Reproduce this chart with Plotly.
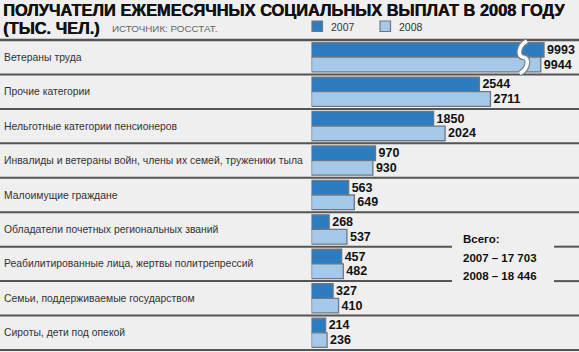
import plotly.graph_objects as go

# ---- data ----
categories = [
    "Ветераны труда",
    "Прочие категории",
    "Нельготные категории пенсионеров",
    "Инвалиды и ветераны войн, члены их семей, труженики тыла",
    "Малоимущие граждане",
    "Обладатели почетных региональных званий",
    "Реабилитированные лица, жертвы политрепрессий",
    "Семьи, поддерживаемые государством",
    "Сироты, дети под опекой",
]
values_2007 = [9993, 2544, 1850, 970, 563, 268, 457, 327, 214]
values_2008 = [9944, 2711, 2024, 930, 649, 537, 482, 410, 236]
series_names = ["2007", "2008"]
total_2007 = "17 703"
total_2008 = "18 446"

title_line1 = "ПОЛУЧАТЕЛИ ЕЖЕМЕСЯЧНЫХ СОЦИАЛЬНЫХ ВЫПЛАТ В 2008 ГОДУ"
title_line2 = "(ТЫС. ЧЕЛ.)"
source_text = "ИСТОЧНИК: РОССТАТ."

# axis break: values above BREAK_LIMIT are shortened by BREAK_CUT
BREAK_LIMIT = 5000
BREAK_CUT = 6470

def shown(v):
    return v - BREAK_CUT if v > BREAK_LIMIT else v

# ---- layout constants ----
W, H = 579, 352
MT, MB = 40, 2
PLOT_H = H - MT - MB
BAR_X0 = 311.5
PX_PER_UNIT = 0.066
XMAX = (W - BAR_X0) / PX_PER_UNIT

def py(p):  # pixel y -> paper y
    return (H - MB - p) / PLOT_H

def px(p):  # pixel x -> paper x
    return p / W

C2007 = "#2d7cbf"
C2008 = "#a7c9e9"
EDGE = "#6f7882"
BG = "#efefef"
LINE = "#555555"
SANS = "Liberation Sans"

def bfont(size, color="#111111"):
    return dict(family=SANS, size=size, color=color, weight=700)

fig = go.Figure()
for name, vals, col in [(series_names[0], values_2007, C2007),
                        (series_names[1], values_2008, C2008)]:
    fig.add_trace(go.Bar(
        y=categories, x=[shown(v) for v in vals], orientation="h", name=name,
        marker=dict(color=col, line=dict(color=EDGE, width=1.3)),
        text=[str(v) for v in vals], textposition="outside",
        textfont=bfont(12.5),
        constraintext="none", cliponaxis=False, hoverinfo="skip",
    ))

shapes = []
n = len(categories)
row_h = PLOT_H / n
# separators
for i in range(n + 1):
    yy = MT + i * row_h
    w = 2.5 if i == 0 else 2
    if i in (6, 7):
        shapes.append(dict(type="line", xref="paper", yref="paper",
                           x0=0, x1=px(452), y0=py(yy), y1=py(yy),
                           line=dict(color=LINE, width=w)))
        shapes.append(dict(type="line", xref="paper", yref="paper",
                           x0=px(554), x1=1, y0=py(yy), y1=py(yy),
                           line=dict(color=LINE, width=w)))
    else:
        shapes.append(dict(type="line", xref="paper", yref="paper",
                           x0=0, x1=1, y0=py(yy), y1=py(yy),
                           line=dict(color=LINE, width=w)))

# break symbol (S-curve) on first row
bx = 3210
top = py(MT + 1)
bot = py(MT + row_h - 1)
mid = (top + bot) / 2
dx = 55
path = (f"M {bx+dx},{top} C {bx-dx*1.6},{top-(top-bot)*0.15} {bx-dx*1.6},{mid} {bx},{mid} "
        f"C {bx+dx*1.6},{mid} {bx+dx*1.6},{bot+(top-bot)*0.15} {bx-dx},{bot}")
shapes.append(dict(type="path", xref="x", yref="paper", path=path,
                   line=dict(color="#7a8490", width=6)))
shapes.append(dict(type="path", xref="x", yref="paper", path=path,
                   line=dict(color="#ffffff", width=3.5)))

# legend squares
for xs, col in [(312, C2007), (380, C2008)]:
    shapes.append(dict(type="rect", xref="paper", yref="paper",
                       x0=px(xs), x1=px(xs + 10.5), y0=py(31.5), y1=py(21),
                       fillcolor=col, line=dict(color=EDGE, width=1.2)))

annotations = []
for cat in categories:
    annotations.append(dict(xref="paper", yref="y", x=px(2), y=cat,
                            xanchor="left", yanchor="middle", showarrow=False,
                            text=cat, font=dict(family=SANS, size=10.4, color="#333333")))

title_font = dict(family=SANS, size=16.4, color="#111111", weight=700,
                  shadow="0.5px 0 0 #111111")
annotations += [
    dict(xref="paper", yref="paper", x=px(1), y=py(10.5), xanchor="left", yanchor="middle",
         showarrow=False, text=title_line1, font=title_font),
    dict(xref="paper", yref="paper", x=px(1), y=py(28), xanchor="left", yanchor="middle",
         showarrow=False, text=title_line2, font=title_font),
    dict(xref="paper", yref="paper", x=px(110), y=py(28.5), xanchor="left", yanchor="middle",
         showarrow=False, text=source_text,
         font=dict(family=SANS, size=9.8, color="#666666")),
    dict(xref="paper", yref="paper", x=px(329), y=py(27), xanchor="left", yanchor="middle",
         showarrow=False, text=series_names[0],
         font=dict(family=SANS, size=10.5, color="#333333")),
    dict(xref="paper", yref="paper", x=px(397), y=py(27), xanchor="left", yanchor="middle",
         showarrow=False, text=series_names[1],
         font=dict(family=SANS, size=10.5, color="#333333")),
    dict(xref="paper", yref="paper", x=px(461), y=py(238.5), xanchor="left", yanchor="middle",
         showarrow=False, text="Всего:", font=bfont(11.5)),
    dict(xref="paper", yref="paper", x=px(461), y=py(257.5), xanchor="left", yanchor="middle",
         showarrow=False, text=f"{series_names[0]} – {total_2007}", font=bfont(11.5)),
    dict(xref="paper", yref="paper", x=px(461), y=py(276), xanchor="left", yanchor="middle",
         showarrow=False, text=f"{series_names[1]} – {total_2008}", font=bfont(11.5)),
]

fig.update_layout(
    width=W, height=H,
    margin=dict(l=0, r=0, t=MT, b=MB),
    paper_bgcolor=BG, plot_bgcolor=BG,
    barmode="group", bargap=0.15, bargroupgap=0,
    showlegend=False,
    xaxis=dict(domain=[BAR_X0 / W, 1], range=[0, XMAX], visible=False, fixedrange=True),
    yaxis=dict(autorange="reversed", visible=False, fixedrange=True),
    shapes=shapes, annotations=annotations,
    uniformtext=dict(mode=False),
)
fig.write_html("out.html")
